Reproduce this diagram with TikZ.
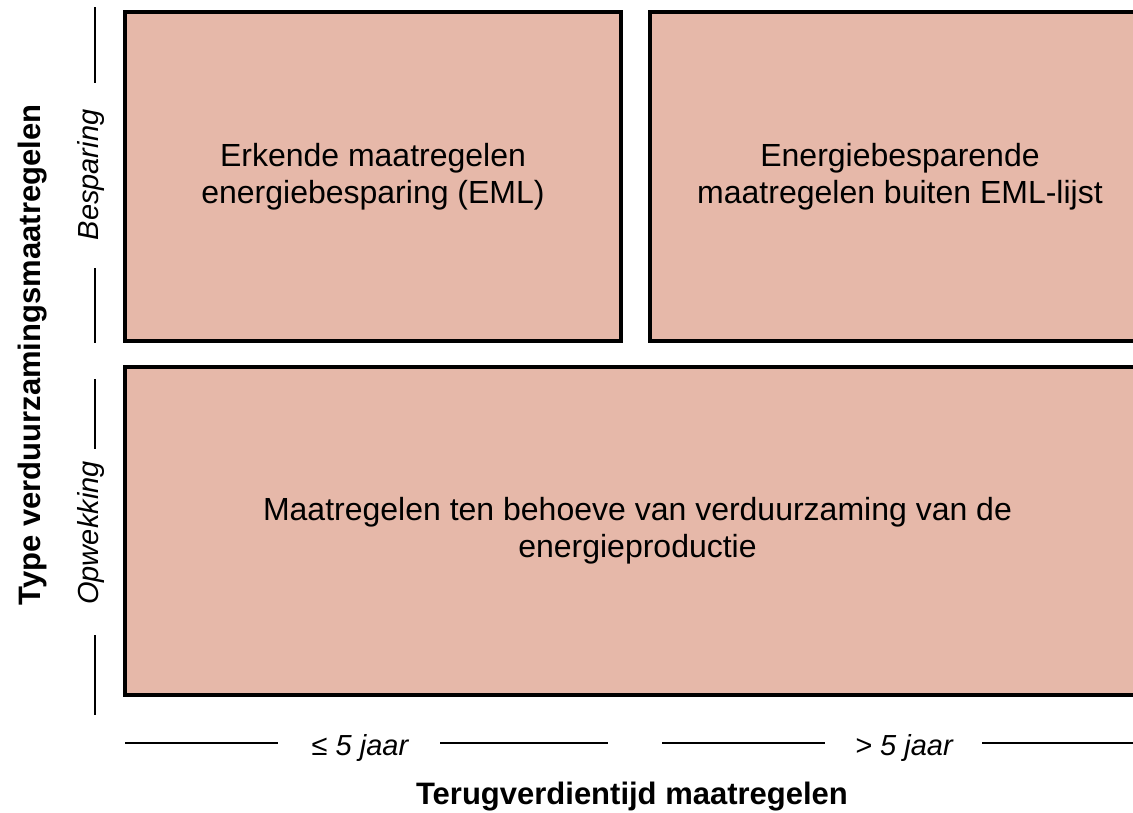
\documentclass[tikz,border=0pt]{standalone}
\usepackage{fontspec}
\setmainfont{Liberation Sans}
\definecolor{boxfill}{RGB}{230,184,169}
\tikzset{
  box/.style={draw=black, line width=3.5pt, fill=boxfill, align=center, inner sep=0pt,
    font=\fontsize{32}{37}\selectfont},
  axisline/.style={draw=black, line width=2.6pt},
  cat/.style={font=\fontsize{29}{34}\selectfont\itshape, inner sep=0pt},
  axtitle/.style={font=\fontsize{31}{36}\selectfont\bfseries, inner sep=0pt},
}
\begin{document}
\begin{tikzpicture}[x=1pt,y=-1pt]
\useasboundingbox (0,0) rectangle (1133,812);
\clip (0,0) rectangle (1133,812);
% boxes
\node[box, minimum width=496pt, minimum height=329pt] (eml) at (373,176.5)
  {Erkende maatregelen\\energiebesparing (EML)};
\node[box, minimum width=500pt, minimum height=329pt] (noneml) at (900,176.5)
  {Energiebesparende\\maatregelen buiten EML-lijst};
\node[box, minimum width=1025pt, minimum height=328pt] (prod) at (637.5,531)
  {Maatregelen ten behoeve van verduurzaming van de\\energieproductie};
% vertical category axis
\node[cat, rotate=90] (besp) at (91,175) {Besparing};
\node[cat, rotate=90] (opw) at (91,533) {Opwekking};
\coordinate (v1) at (95,7);
\coordinate (v2) at (95,83);
\coordinate (v3) at (95,268);
\coordinate (v4) at (95,343);
\coordinate (v5) at (95,379);
\coordinate (v6) at (95,449);
\coordinate (v7) at (95,635);
\coordinate (v8) at (95,715);
\draw[axisline] (v1) -- (v2);
\draw[axisline] (v3) -- (v4);
\draw[axisline] (v5) -- (v6);
\draw[axisline] (v7) -- (v8);
% horizontal category axis
\node[cat] (kort) at (360,748) {≤ 5 jaar};
\node[cat] (lang) at (904,748) {> 5 jaar};
\coordinate (h1) at (125,743);
\coordinate (h2) at (278,743);
\coordinate (h3) at (440,743);
\coordinate (h4) at (608,743);
\coordinate (h5) at (662,743);
\coordinate (h6) at (825,743);
\coordinate (h7) at (982,743);
\coordinate (h8) at (1140,743);
\draw[axisline] (h1) -- (h2);
\draw[axisline] (h3) -- (h4);
\draw[axisline] (h5) -- (h6);
\draw[axisline] (h7) -- (h8);
% titles
\node[axtitle] (xt) at (632,797) {Terugverdientijd maatregelen};
\node[axtitle, rotate=90] (yt) at (33,355) {Type verduurzamingsmaatregelen};
\end{tikzpicture}
\end{document}
